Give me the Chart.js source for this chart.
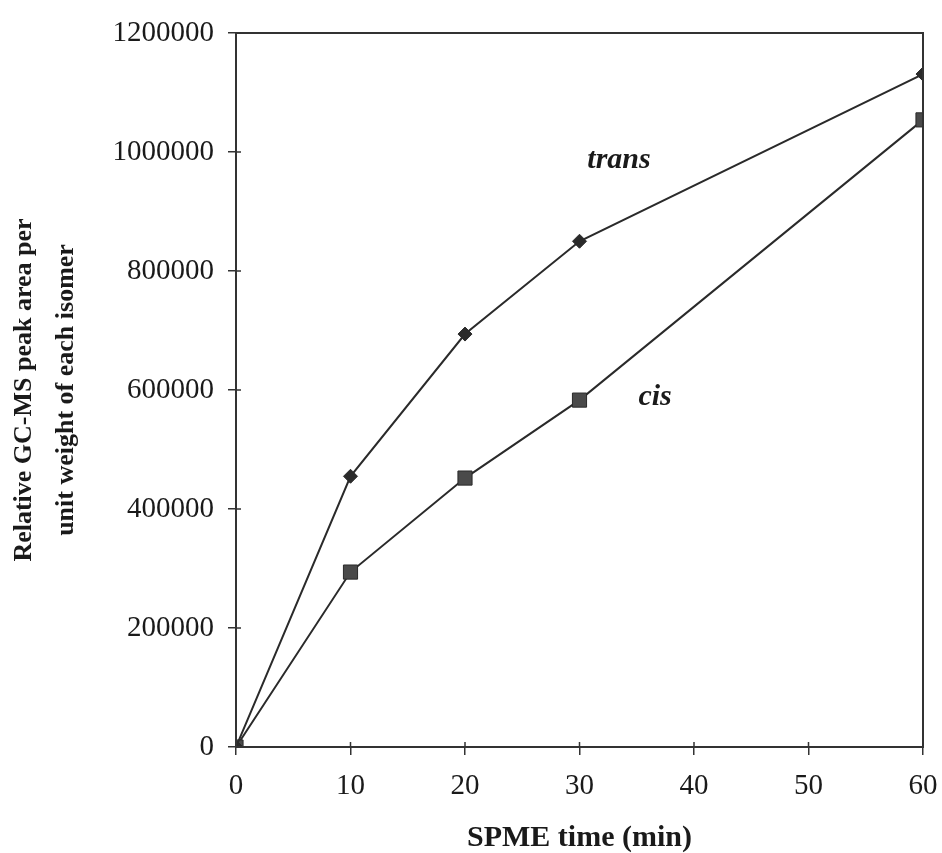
<!DOCTYPE html>
<html>
<head>
<meta charset="utf-8">
<script src="https://cdn.jsdelivr.net/npm/chart.js@4.4.1/dist/chart.umd.min.js"></script>
<style>
  body { margin: 0; background: #fff; }
  #wrap { width: 942px; height: 853px; }
</style>
</head>
<body>
<div id="wrap"><canvas id="graphique"></canvas></div>
<script>
// temps d'extraction SPME (min)
const temps = [0, 10, 20, 30, 60];
// aire de pic relative pour chaque isomère
const transAire = [0, 455000, 694000, 850000, 1131000];
const cisAire = [0, 294000, 452000, 583000, 1054000];
// étiquettes posées à côté des courbes : [texte, x, y]
const etiquettes = [
  ["trans", 33.45, 986000],
  ["cis", 36.6, 588000],
];

const serif = "'Liberation Serif', 'Times New Roman', serif";

function points(xs, ys) {
  return xs.map((x, i) => ({ x: x, y: ys[i] }));
}

// cadre complet, graduations qui traversent l'axe, et étiquettes des courbes
const decor = {
  id: "decor",
  afterDraw(chart) {
    const ctx = chart.ctx;
    const a = chart.chartArea;
    const sx = chart.scales.x;
    const sy = chart.scales.y;
    ctx.save();
    ctx.strokeStyle = "#333";
    ctx.lineWidth = 2;
    ctx.strokeRect(a.left, a.top, a.right - a.left, a.bottom - a.top);
    ctx.lineWidth = 1.5;
    ctx.beginPath();
    for (const t of sx.ticks) {
      const px = sx.getPixelForValue(t.value);
      ctx.moveTo(px, a.bottom);
      ctx.lineTo(px, a.bottom - 5);
    }
    for (const t of sy.ticks) {
      const py = sy.getPixelForValue(t.value);
      ctx.moveTo(a.left, py);
      ctx.lineTo(a.left + 5, py);
    }
    ctx.stroke();
    ctx.fillStyle = "#1a1a1a";
    ctx.font = "italic bold 30px " + serif;
    ctx.textAlign = "center";
    ctx.textBaseline = "middle";
    for (const [txt, x, y] of etiquettes) {
      ctx.fillText(txt, sx.getPixelForValue(x), sy.getPixelForValue(y));
    }
    ctx.restore();
  },
};

new Chart(document.querySelector("#graphique"), {
  type: "line",
  data: {
    datasets: [
      {
        label: "trans",
        data: points(temps, transAire),
        borderColor: "#2a2a2a",
        borderWidth: 2,
        pointStyle: "rectRot",
        pointRadius: 7,
        pointBackgroundColor: "#2a2a2a",
        pointBorderColor: "#2a2a2a",
        pointBorderWidth: 1,
      },
      {
        label: "cis",
        data: points(temps, cisAire),
        borderColor: "#2a2a2a",
        borderWidth: 2,
        pointStyle: "rect",
        pointRadius: 10,
        pointBackgroundColor: "#4a4a4a",
        pointBorderColor: "#2a2a2a",
        pointBorderWidth: 1,
      },
    ],
  },
  options: {
    responsive: true,
    maintainAspectRatio: false,
    animation: false,
    layout: { padding: { left: 0, top: 33, right: 19, bottom: 0 } },
    plugins: { legend: { display: false }, tooltip: { enabled: false } },
    scales: {
      x: {
        type: "linear",
        min: 0,
        max: 60,
        ticks: { stepSize: 10, color: "#1a1a1a", padding: 14, font: { family: serif, size: 29 } },
        grid: { drawOnChartArea: false, drawTicks: true, tickLength: 8, color: "#333", lineWidth: 1.5 },
        border: { color: "#333", width: 2 },
        title: {
          display: true,
          text: "SPME time (min)",
          color: "#1a1a1a",
          font: { family: serif, size: 30, weight: "bold", lineHeight: 1 },
          padding: { top: 0, bottom: 0 },
        },
        afterFit(scale) {
          scale.height = 106;
          scale.paddingRight = 0;
          scale.paddingLeft = 0;
        },
      },
      y: {
        min: 0,
        max: 1200000,
        ticks: {
          stepSize: 200000,
          color: "#1a1a1a",
          padding: 14,
          font: { family: serif, size: 29 },
          callback: (v) => String(v),
        },
        grid: { drawOnChartArea: false, drawTicks: true, tickLength: 8, color: "#333", lineWidth: 1.5 },
        border: { color: "#333", width: 2 },
        title: {
          display: true,
          text: ["Relative GC-MS peak area per", "unit weight of each isomer"],
          color: "#1a1a1a",
          font: { family: serif, size: 26, weight: "bold", lineHeight: 1.62 },
          padding: { top: 3, bottom: 0 },
        },
        afterFit(scale) {
          scale.width = 236;
        },
      },
    },
  },
  plugins: [decor],
});
</script>
</body>
</html>
